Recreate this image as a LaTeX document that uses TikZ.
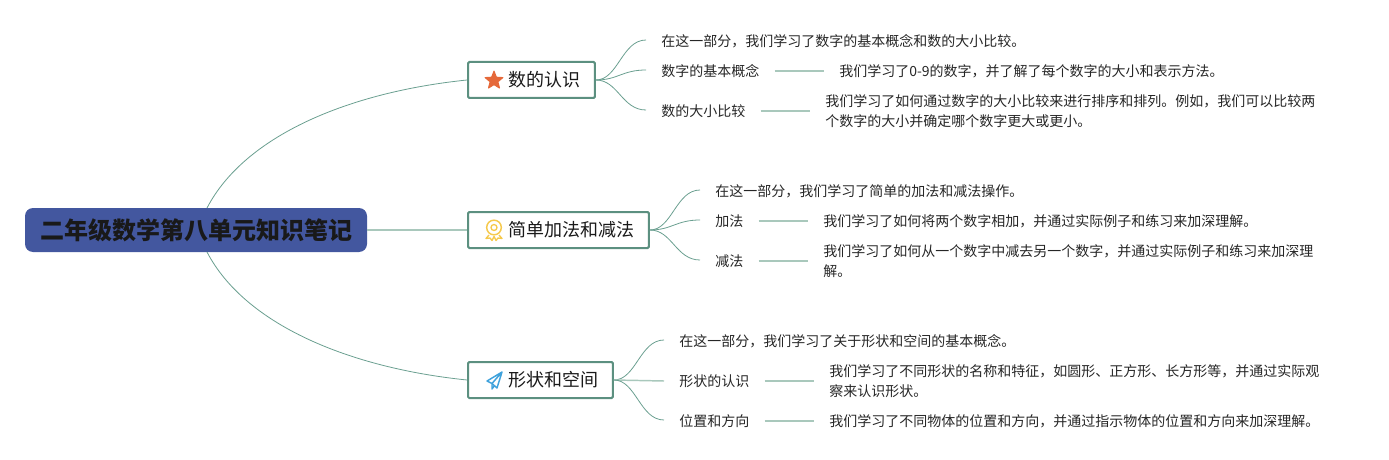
\documentclass[tikz,border=0pt]{standalone}
\usepackage{fontspec}
\setmainfont{Noto Sans CJK SC}
\usetikzlibrary{shapes.geometric, positioning}
\definecolor{linegreen}{HTML}{6A9F90}
\definecolor{paleline}{HTML}{A9C8BC}
\definecolor{boxgreen}{HTML}{5C9080}
\definecolor{rootblue}{HTML}{43579F}
\definecolor{staricon}{HTML}{E5693A}
\definecolor{medalicon}{HTML}{F5C94C}
\definecolor{planeicon}{HTML}{3FA2DC}
\tikzstyle{root} = [fill=rootblue, rounded corners=6pt, minimum width=256.5pt, minimum height=33pt, inner sep=0pt, font=\fontsize{18}{22}\selectfont\bfseries, text=black!90]
\tikzstyle{branch} = [draw=boxgreen, line width=1.5pt, rounded corners=1pt, anchor=west, minimum height=27pt, inner xsep=10.6pt, inner ysep=0pt, font=\fontsize{13.5}{16}\selectfont, text=black!90]
\tikzstyle{leaf} = [anchor=west, inner xsep=11.25pt, inner ysep=0pt, align=left, font=\fontsize{10.5}{15}\selectfont, text=black!85]
\tikzstyle{curve} = [draw=linegreen, line width=0.6pt]
\tikzstyle{link} = [draw=paleline, line width=1.1pt]

\begin{document}
\begin{tikzpicture}[x=0.75pt, y=-0.75pt]
  \useasboundingbox (0,0) rectangle (1389,460);

  % root
  \node[root] (root) at (196,230) {二年级数学第八单元知识笔记};
  \coordinate (rootup) at (207,208);
  \coordinate (rootdown) at (207,252);

  % branches
  \node[branch] (number) at (467,80) {\hspace{20pt}数的认识};
  \node[branch] (addsub) at (467,230) {\hspace{20pt}简单加法和减法};
  \node[branch] (shape) at (467,380) {\hspace{20pt}形状和空间};

  % number leaves
  \node[leaf] (numA) at (646,41) {在这一部分，我们学习了数字的基本概念和数的大小比较。};
  \node[leaf] (numB) at (646,71) {数字的基本概念};
  \node[leaf] (numC) at (646,111) {数的大小比较};
  \node[leaf] (numBnote) at (824,71) {我们学习了0-9的数字，并了解了每个数字的大小和表示方法。};
  \node[leaf] (numCnote) at (810,111) {我们学习了如何通过数字的大小比较来进行排序和排列。例如，我们可以比较两\\个数字的大小并确定哪个数字更大或更小。};

  % addsub leaves
  \node[leaf] (addA) at (700,191) {在这一部分，我们学习了简单的加法和减法操作。};
  \node[leaf] (addB) at (700,221) {加法};
  \node[leaf] (addC) at (700,261) {减法};
  \node[leaf] (addBnote) at (808,221) {我们学习了如何将两个数字相加，并通过实际例子和练习来加深理解。};
  \node[leaf] (addCnote) at (808,261) {我们学习了如何从一个数字中减去另一个数字，并通过实际例子和练习来加深理\\解。};

  % shape leaves
  \node[leaf] (shpA) at (664,341) {在这一部分，我们学习了关于形状和空间的基本概念。};
  \node[leaf] (shpB) at (664,381) {形状的认识};
  \node[leaf] (shpC) at (664,421) {位置和方向};
  \node[leaf] (shpBnote) at (814,381) {我们学习了不同形状的名称和特征，如圆形、正方形、长方形等，并通过实际观\\察来认识形状。};
  \node[leaf] (shpCnote) at (814,421) {我们学习了不同物体的位置和方向，并通过指示物体的位置和方向来加深理解。};

  % icons
  \node[star, star points=5, star point ratio=2.3, fill=staricon, draw=staricon, line join=round, line width=0.8pt, minimum size=14pt, inner sep=0pt] (staricn) at (494,80.5) {};
  \node[circle, draw=medalicon, line width=1.1pt, minimum size=11pt, inner sep=0pt] (medal) at (494,227.5) {};
  \node[circle, draw=medalicon, line width=1pt, minimum size=4.5pt, inner sep=0pt] (medalcore) at (494,227.5) {};
  \draw[medalicon, line width=1pt, line join=round] (489,235) -- (486,238.5) -- (490,238) -- (492,240.5) -- (494,236.5) -- (496,240.5) -- (498,238) -- (502,238.5) -- (499,235);
  \draw[planeicon, line width=1.1pt, line join=round] (502,372) -- (487,381) -- (492,383.5) -- (502,372) -- (497,388) -- (492,383.5) -- (492,389) -- (494.5,385.6);

  % root to branches
  \draw[curve] (rootup) .. controls (245,135) and (350,92) .. (number.west);
  \draw[link] (root.east) -- (addsub.west);
  \draw[curve] (rootdown) .. controls (245,325) and (350,368) .. (shape.west);

  % number
  \draw[curve] (number.east) .. controls (618,80) and (622,40) .. (646,40);
  \draw[curve] (number.east) .. controls (618,80) and (622,70) .. (646,70);
  \draw[curve] (number.east) .. controls (618,80) and (622,110) .. (646,110);
  \draw[link] (numB.east) -- (numBnote.west);
  \draw[link] (numC.east) -- (numCnote.west);

  % addsub
  \draw[curve] (addsub.east) .. controls (672,230) and (676,190) .. (700,190);
  \draw[curve] (addsub.east) .. controls (672,230) and (676,220) .. (700,220);
  \draw[curve] (addsub.east) .. controls (672,230) and (676,260) .. (700,260);
  \draw[link] (addB.east) -- (addBnote.west);
  \draw[link] (addC.east) -- (addCnote.west);

  % shape
  \draw[curve] (shape.east) .. controls (636,380) and (640,340) .. (664,340);
  \draw[link] (shape.east) -- (shpB.west);
  \draw[curve] (shape.east) .. controls (636,380) and (640,420) .. (664,420);
  \draw[link] (shpB.east) -- (shpBnote.west);
  \draw[link] (shpC.east) -- (shpCnote.west);
\end{tikzpicture}
\end{document}
